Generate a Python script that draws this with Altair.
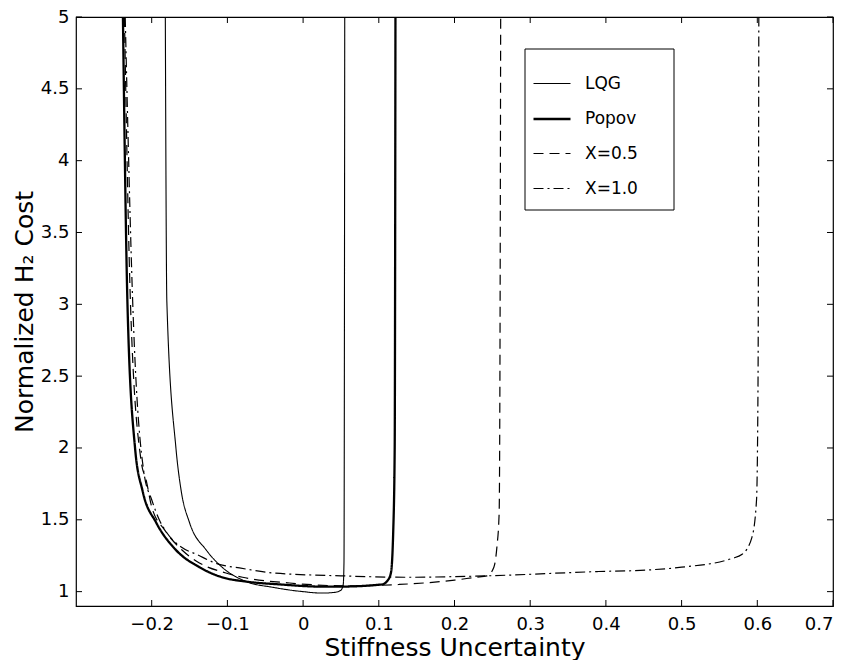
import altair as alt
import pandas as pd

series_names = ["LQG", "Popov", "X=0.5", "X=1.0"]

lqg_x = [-0.182, -0.180, -0.168, -0.161, -0.150, -0.128, -0.107, -0.075, -0.040, 0.000, 0.025, 0.042, 0.050, 0.053, 0.054, 0.055]
lqg_y = [5.0, 3.02, 2.0, 1.70, 1.48, 1.29, 1.17, 1.07, 1.03, 1.0, 0.99, 0.995, 1.01, 1.05, 1.2, 5.0]

popov_x = [-0.238, -0.232, -0.222, -0.212, -0.194, -0.168, -0.137, -0.107, -0.075, -0.030, 0.025, 0.048, 0.104, 0.112, 0.116, 0.119, 0.121, 0.122]
popov_y = [5.0, 3.0, 2.0, 1.70, 1.48, 1.29, 1.17, 1.10, 1.07, 1.05, 1.035, 1.035, 1.05, 1.08, 1.13, 1.41, 2.0, 5.0]

x05_x = [-0.236, -0.228, -0.214, -0.207, -0.200, -0.183, -0.160, -0.137, -0.102, -0.080, -0.018, 0.060, 0.127, 0.200, 0.228, 0.243, 0.252, 0.256, 0.259, 0.260, 0.261]
x05_y = [5.0, 3.0, 1.91, 1.77, 1.59, 1.43, 1.29, 1.20, 1.13, 1.10, 1.06, 1.04, 1.05, 1.08, 1.10, 1.11, 1.17, 1.31, 1.55, 2.5, 5.0]

x10_x = [-0.235, -0.225, -0.210, -0.200, -0.190, -0.180, -0.161, -0.141, -0.111, -0.084, -0.040, 0.050, 0.136, 0.243, 0.390, 0.453, 0.500, 0.566, 0.580, 0.593, 0.599, 0.601, 0.602]
x10_y = [5.0, 3.0, 1.82, 1.64, 1.50, 1.41, 1.31, 1.26, 1.19, 1.165, 1.13, 1.11, 1.10, 1.11, 1.14, 1.15, 1.17, 1.23, 1.26, 1.38, 1.64, 2.5, 5.0]

x_tick_values = [-0.2, -0.1, 0, 0.1, 0.2, 0.3, 0.4, 0.5, 0.6, 0.7]
y_tick_values = [1, 1.5, 2, 2.5, 3, 3.5, 4, 4.5, 5]

rows = []
for name, xs, ys in [("LQG", lqg_x, lqg_y), ("Popov", popov_x, popov_y),
                     ("X=0.5", x05_x, x05_y), ("X=1.0", x10_x, x10_y)]:
    for i, (a, b) in enumerate(zip(xs, ys)):
        rows.append({"series": name, "x": a, "y": b, "idx": i})
df = pd.DataFrame(rows)

W, H = 757, 589
FONT = "DejaVu Sans"
TICK = 6

xscale = alt.Scale(domain=[-0.3, 0.7], nice=False, zero=False)
yscale = alt.Scale(domain=[0.9, 5.0], nice=False, zero=False)

legend_box = alt.Chart(pd.DataFrame({"a": [0]})).mark_rect(
    fill="white", stroke="black", strokeWidth=1
).encode(x=alt.value(449), x2=alt.value(598), y=alt.value(32), y2=alt.value(193))

leg = alt.Legend(title=None, orient="none", legendX=456, legendY=47)

lines = alt.Chart(df).mark_line(color="black", interpolate="monotone").encode(
    x=alt.X("x:Q", scale=xscale,
            axis=alt.Axis(values=x_tick_values, format="~g", ticks=False, domain=False,
                          grid=False, labelPadding=9, title="Stiffness Uncertainty",
                          titlePadding=2)),
    y=alt.Y("y:Q", scale=yscale,
            axis=alt.Axis(values=y_tick_values, format="~g", ticks=False, domain=False,
                          grid=False, labelPadding=7, title="Normalized H₂ Cost",
                          titlePadding=3)),
    order="idx:Q",
    detail="series:N",
    strokeDash=alt.StrokeDash("series:N",
                              scale=alt.Scale(type="ordinal", domain=series_names,
                                              range=[[1, 0], [1, 0], [10, 6], [10, 4, 2, 4]]),
                              legend=leg),
    strokeWidth=alt.StrokeWidth("series:N",
                                scale=alt.Scale(type="ordinal", domain=series_names,
                                                range=[1.1, 2.3, 1.2, 1.2]),
                                legend=leg),
)

xt = pd.DataFrame({"v": x_tick_values})
yt = pd.DataFrame({"v": y_tick_values})
bx = alt.Chart(xt).mark_rule(color="black", strokeWidth=1).encode(
    x=alt.X("v:Q", scale=xscale), y=alt.value(H), y2=alt.value(H - TICK))
tx = alt.Chart(xt).mark_rule(color="black", strokeWidth=1).encode(
    x=alt.X("v:Q", scale=xscale), y=alt.value(0), y2=alt.value(TICK))
ly = alt.Chart(yt).mark_rule(color="black", strokeWidth=1).encode(
    y=alt.Y("v:Q", scale=yscale), x=alt.value(0), x2=alt.value(TICK))
ry = alt.Chart(yt).mark_rule(color="black", strokeWidth=1).encode(
    y=alt.Y("v:Q", scale=yscale), x=alt.value(W), x2=alt.value(W - TICK))

chart = alt.layer(legend_box, lines, bx, tx, ly, ry).properties(
    width=W, height=H,
    autosize=alt.AutoSizeParams(type="none"),
    padding={"left": 68, "top": 9, "right": 7, "bottom": 54},
).configure_view(stroke="black", strokeWidth=1.2).configure_axis(
    labelFont=FONT, labelFontSize=18, labelColor="black",
    titleFont=FONT, titleFontSize=25, titleFontWeight="normal", titleColor="black",
).configure_legend(
    labelFont=FONT, labelFontSize=17, labelColor="black",
    symbolType="stroke", symbolSize=1369, symbolStrokeColor="black",
    rowPadding=7, padding=0, labelOffset=13,
)

chart.save("out.html", embed_options={"renderer": "svg", "actions": False})
